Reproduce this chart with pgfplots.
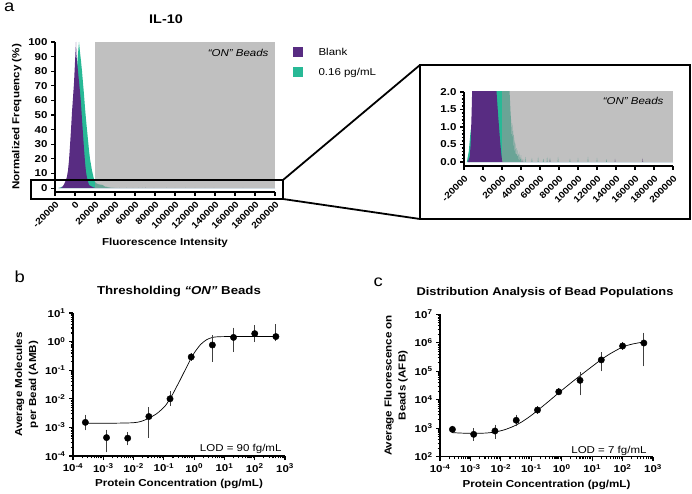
\documentclass[border=0pt]{standalone}
\usepackage{fontspec}
\setmainfont{Liberation Sans}[FakeStretch=1.15]
\usepackage{pgfplots}
\usepackage{pgfplotstable}
\pgfplotsset{compat=1.18}

\definecolor{blankc}{RGB}{88,44,130}
\definecolor{lowc}{RGB}{40,185,150}
\definecolor{onc}{RGB}{150,150,150}

% Normalized bead histograms (fluorescence intensity, % of max)
\pgfplotstableread{
x y
-16000 0
-14000 0.15
-13000 0.5
-12000 1.4
-11000 2.5
-10000 4
-9000 5.5
-8000 8
-7000 12
-6000 19
-5000 29
-4000 40
-3000 52
-2000 62
-1000 72
0 86
1000 100
1500 91
2000 87
3000 80
4000 73
5000 66
6000 58
7000 47
8000 37
9000 27
10000 18
11000 11
12000 7
13000 4.5
14000 2.1
15000 1.7
16000 1.3
17000 0.95
18000 0.6
19000 0.3
20000 0.05
21000 0
40500 0
41000 0.06
41500 0
70000 0
70500 0.08
71000 0
138500 0
139000 0.1
139500 0
167500 0
168000 0.12
168500 0
200000 0
}\blanktab

\pgfplotstableread{
x y
-17000 0
-15000 0.3
-14000 0.6
-13000 0.9
-12000 1.0
-11000 1.2
-10000 1.6
-9000 2.2
-8000 3
-7000 4.5
-6000 6.5
-5000 9.5
-4000 13
-3000 20
-2000 28
-1000 40
0 58
1000 68
2000 82
3000 92
4000 100
5000 93
6000 87
7000 80
8000 72
9000 64
10000 55
11000 47
12000 40
13000 33
14000 26
15000 20
16000 16
17000 12
18000 9
19000 6
20000 4.2
21000 3.4
22000 3.0
23000 2.7
24000 2.5
25000 2.4
26000 2.3
27000 2.2
28000 2.0
29000 1.4
30000 1.0
30500 0.6
31000 1.1
31500 0.5
32000 0.9
32500 0.3
33000 0.7
33500 0.2
34000 0.55
34500 0.1
35000 0.4
35500 0.05
36000 0.35
36500 0.05
37000 0.25
37500 0
38000 0.3
38500 0
39000 0.15
39500 0
40000 0.2
40500 0
41500 0
42000 0.1
42500 0
44000 0
44500 0.15
45000 0
51000 0
51500 0.12
52000 0
57500 0
58000 0.15
58500 0
63000 0
63500 0.1
64000 0
67000 0
67500 0.15
68000 0
70000 0
70500 0.12
71000 0
78500 0
79000 0.15
79500 0
91000 0
91500 0.1
92000 0
99500 0
100000 0.12
100500 0
110000 0
110500 0.15
111000 0
119500 0
120000 0.12
120500 0
129500 0
130000 0.08
130500 0
200000 0
}\lowtab

% Average molecules per bead (mean, +err, -err)
\pgfplotstableread{
x y ep em
0.000256 0.0015 0.0007 0.0005
0.00128 0.00044 0.00022 0.00027
0.0064 0.00042 0.00013 0.00012
0.032 0.0024 0.0016 0.00185
0.16 0.010 0.0045 0.003
0.8 0.29 0.02 0.02
4 0.76 0.54 0.51
20 1.4 1.0 0.85
100 1.9 1.0 0.67
500 1.5 1.7 0.2
}\ambtab

% Four-parameter fit for AMB
\pgfplotstableread{
x y
0.000257 0.00140
0.001 0.00140
0.00316 0.00141
0.01 0.00146
0.0178 0.00162
0.0316 0.00209
0.0562 0.00295
0.0794 0.00398
0.1 0.00501
0.126 0.00676
0.158 0.0100
0.200 0.0151
0.251 0.0240
0.316 0.0380
0.398 0.0617
0.501 0.100
0.631 0.162
0.794 0.263
1.0 0.398
1.26 0.562
1.58 0.759
2.0 0.955
2.51 1.148
3.16 1.288
3.98 1.396
5.01 1.452
6.31 1.479
10 1.496
31.6 1.500
500 1.500
}\ambfit

% Average fluorescence on beads (mean, +err, -err)
\pgfplotstableread{
x y ep em
0.000256 910 60 60
0.00128 610 180 150
0.0064 800 250 250
0.032 1900 450 420
0.16 4350 300 300
0.8 19000 1000 1000
4 48000 26000 30000
20 250000 110000 123000
100 770000 40000 40000
500 980000 800000 790000
}\afbtab

\pgfplotstableread{
x y
0.000251 700
0.000631 668
0.00158 661
0.00316 676
0.00631 733
0.0126 871
0.0251 1148
0.0501 1698
0.1 2818
0.158 4169
0.316 7586
0.794 17378
2.0 38905
3.98 69183
10 147911
20.0 257040
39.8 416869
100 707946
200 891251
500 1071519
}\afbfit

\pgfplotsset{
  prism/.style={
    scale only axis,
    axis x line*=bottom, axis y line*=left,
    axis line style={line width=1.3pt},
    tick style={black, line width=1.1pt},
    tick align=outside,
    major tick length=4pt,
    minor tick length=2.4pt,
    tick label style={font=\fontsize{10}{12}\selectfont\bfseries},
    label style={font=\fontsize{10.1}{14}\selectfont\bfseries},
    /pgf/number format/assume math mode=true,
    /pgf/number format/1000 sep={},
  },
  histo/.style={
    prism,
    xmin=-20000, xmax=200000,
    scaled x ticks=false, scaled y ticks=false,
    xtick={-20000,0,...,200000},
    xticklabels={-20000,0,20000,40000,60000,80000,100000,120000,140000,160000,180000,200000},
    xticklabel style={rotate=45, anchor=north east, font=\fontsize{9}{11}\selectfont\bfseries},
  },
  dose/.style={
    prism,
    xmin=1e-4, xmax=1e3,
    xtick={1e-4,1e-3,1e-2,1e-1,1,1e1,1e2,1e3},
    xticklabels={10\textsuperscript{-4},10\textsuperscript{-3},10\textsuperscript{-2},10\textsuperscript{-1},10\textsuperscript{0},10\textsuperscript{1},10\textsuperscript{2},10\textsuperscript{3}},
    xlabel={Protein Concentration (pg/mL)},
    ylabel style={align=center},
  },
  pts/.style={
    only marks, mark=*, mark size=3.2pt, black,
    error bars/y dir=both,
    error bars/y explicit,
    error bars/error bar style={line width=0.9pt, black!75},
    error bars/error mark options={mark size=3pt, line width=0.9pt, black!75},
  },
  fit/.style={smooth, no marks, black, line width=0.7pt},
}

\begin{document}
\begin{tikzpicture}[x=1pt,y=1pt]
\path[use as bounding box] (0,0) rectangle (692,494);

% ---- panel a: histogram ----
\node[anchor=base west, font=\fontsize{16}{18}\selectfont] at (0.5,482.5) {a};
\node[anchor=base, font=\fontsize{12.5}{14}\selectfont\bfseries] at (166,470) {IL-10};

\begin{axis}[histo, at={(55pt,302pt)}, anchor=south west, width=220pt, height=150pt,
  ymin=-2.7, ymax=100, ytick={0,10,...,100},
  xlabel={Fluorescence Intensity}, ylabel={Normalized Frequency (\%)}]
\addplot[fill=lowc, draw=none] table {\lowtab} -- cycle;
\addplot[fill=blankc, draw=none] table {\blanktab} -- cycle;
\addplot[fill=onc, fill opacity=0.6, draw=none] coordinates {(20000,0) (20000,100) (200000,100) (200000,0)} -- cycle;
\end{axis}
\node[anchor=base east, font=\fontsize{10}{12}\selectfont\itshape] at (272,437.5) {“ON” Beads};

% legend
\fill[blankc] (293,437) rectangle (303,447);
\node[anchor=base west, font=\fontsize{10}{12}\selectfont] at (315,438) {Blank};
\fill[lowc] (293,417) rectangle (303,427);
\node[anchor=base west, font=\fontsize{10}{12}\selectfont] at (315,418) {0.16 pg/mL};

% zoom frame
\draw[line width=1.8pt] (31,295) rectangle (283,314);
\draw[line width=1.8pt] (420,275) rectangle (690,429);
\draw[line width=1.8pt] (283,314) -- (420,429);
\draw[line width=1.8pt] (283,295) -- (420,275);

\begin{axis}[histo, at={(464pt,328pt)}, anchor=south west, width=209pt, height=74pt,
  ymin=-0.114, ymax=2, ytick={0,0.5,...,2}, yticklabels={0.0,0.5,1.0,1.5,2.0},
  minor y tick num=4]
\addplot[fill=lowc, draw=none] table {\lowtab} -- cycle;
\addplot[fill=blankc, draw=none] table {\blanktab} -- cycle;
\addplot[fill=onc, fill opacity=0.6, draw=none] coordinates {(20000,0) (20000,100) (200000,100) (200000,0)} -- cycle;
\end{axis}
\node[anchor=base east, font=\fontsize{10}{12}\selectfont\itshape] at (667,389) {“ON” Beads};

% ---- panel b: thresholding ----
\node[anchor=base west, font=\fontsize{16}{18}\selectfont] at (11,211) {b};
\node[anchor=base, font=\fontsize{11.5}{14}\selectfont\bfseries] at (179,199) {Thresholding \textit{“ON”} Beads};
\begin{axis}[xmode=log, ymode=log, dose, at={(73pt,38pt)}, anchor=south west, width=212pt, height=143pt,
  ymin=1e-4, ymax=10,
  ytick={1e-4,1e-3,1e-2,1e-1,1,10},
  yticklabels={10\textsuperscript{-4},10\textsuperscript{-3},10\textsuperscript{-2},10\textsuperscript{-1},10\textsuperscript{0},10\textsuperscript{1}},
  ylabel={Average Molecules\\per Bead (AMB)}]
\addplot[fit] table {\ambfit};
\addplot[pts] table[x=x, y=y, y error plus=ep, y error minus=em] {\ambtab};
\node[anchor=base east, font=\fontsize{10}{12}\selectfont] at (rel axis cs:1,0.03) {LOD = 90 fg/mL};
\end{axis}

% ---- panel c: distribution analysis ----
\node[anchor=base west, font=\fontsize{16}{18}\selectfont] at (370,207) {c};
\node[anchor=base, font=\fontsize{11.2}{14}\selectfont\bfseries] at (545,198) {Distribution Analysis of Bead Populations};
\begin{axis}[xmode=log, ymode=log, dose, at={(440pt,37.3pt)}, anchor=south west, width=213pt, height=142.4pt,
  ymin=1e2, ymax=1e7,
  ytick={1e2,1e3,1e4,1e5,1e6,1e7},
  yticklabels={10\textsuperscript{2},10\textsuperscript{3},10\textsuperscript{4},10\textsuperscript{5},10\textsuperscript{6},10\textsuperscript{7}},
  ylabel={Average Fluorescence on\\Beads (AFB)}]
\addplot[fit] table {\afbfit};
\addplot[pts] table[x=x, y=y, y error plus=ep, y error minus=em] {\afbtab};
\node[anchor=base east, font=\fontsize{10}{12}\selectfont] at (rel axis cs:0.986,0.02) {LOD = 7 fg/mL};
\end{axis}
\end{tikzpicture}
\end{document}
